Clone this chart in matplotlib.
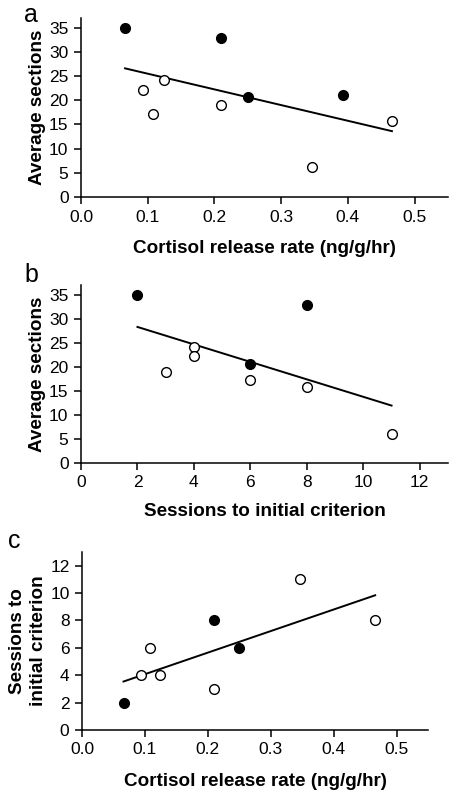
import numpy as np
import matplotlib
matplotlib.use("Agg")
import matplotlib.pyplot as plt

plt.rcParams['font.family'] = ['Liberation Sans', 'DejaVu Sans']

# Panel a: cortisol vs average sections
a_fill_x = [0.066, 0.210, 0.250, 0.393]
a_fill_y = [35.0, 32.8, 20.6, 21.0]
a_open_x = [0.093, 0.108, 0.124, 0.210, 0.346, 0.466]
a_open_y = [22.2, 17.2, 24.1, 19.0, 6.1, 15.8]

# Panel b: sessions vs average sections
b_fill_x = [2, 8, 6]
b_fill_y = [35.0, 32.8, 20.6]
b_open_x = [3, 4, 4, 6, 8, 11]
b_open_y = [19.0, 24.1, 22.2, 17.2, 15.8, 6.1]

# Panel c: cortisol vs sessions
c_fill_x = [0.066, 0.210, 0.250]
c_fill_y = [2, 8, 6]
c_open_x = [0.093, 0.108, 0.124, 0.210, 0.346, 0.466]
c_open_y = [4, 6, 4, 3, 11, 8]

cort_ticks = [0.0, 0.1, 0.2, 0.3, 0.4, 0.5]
cort_ticklabels = ['0.0', '0.1', '0.2', '0.3', '0.4', '0.5']
sect_ticks = [0, 5, 10, 15, 20, 25, 30, 35]
sess_ticks = [0, 2, 4, 6, 8, 10, 12]

W, H = 459, 797
fig = plt.figure(figsize=(W / 100, H / 100), dpi=100)

def ax_at(l, r, b, t):
    return fig.add_axes([l / W, 1 - b / H, (r - l) / W, (b - t) / H])

def style(ax):
    for s in ['top', 'right']:
        ax.spines[s].set_visible(False)
    for s in ['left', 'bottom']:
        ax.spines[s].set_linewidth(1.1)
    ax.tick_params(direction='out', length=5, width=1.1, labelsize=12.5, pad=4)

def draw(ax, fx, fy, ox, oy):
    allx = np.array(list(fx) + list(ox), float)
    ally = np.array(list(fy) + list(oy), float)
    m, c = np.polyfit(allx, ally, 1)
    xs = np.array([allx.min(), allx.max()])
    ax.plot(xs, m * xs + c, color='black', lw=1.4, zorder=2)
    ax.plot(fx, fy, 'o', ms=7, mfc='black', mec='black', mew=1, zorder=3, clip_on=False)
    ax.plot(ox, oy, 'o', ms=7, mfc='white', mec='black', mew=1, zorder=3, clip_on=False)

lab = dict(fontsize=13.6, fontweight='bold')

# a
ax1 = ax_at(81, 448, 197, 18)
draw(ax1, a_fill_x, a_fill_y, a_open_x, a_open_y)
ax1.set_xlim(0, 0.55); ax1.set_ylim(0, 37)
ax1.set_xticks(cort_ticks); ax1.set_xticklabels(cort_ticklabels)
ax1.set_yticks(sect_ticks)
style(ax1)
ax1.set_xlabel('Cortisol release rate (ng/g/hr)', labelpad=11, **lab)
ax1.set_ylabel('Average sections', labelpad=2, **lab)
fig.text(31 / W, 1 - 15 / H, 'a', fontsize=18, ha='center', va='center')

# b
ax2 = ax_at(81, 448, 463, 285)
draw(ax2, b_fill_x, b_fill_y, b_open_x, b_open_y)
ax2.set_xlim(0, 13); ax2.set_ylim(0, 37)
ax2.set_xticks(sess_ticks)
ax2.set_yticks(sect_ticks)
style(ax2)
ax2.set_xlabel('Sessions to initial criterion', labelpad=9, **lab)
ax2.set_ylabel('Average sections', labelpad=2, **lab)
fig.text(31 / W, 1 - 275 / H, 'b', fontsize=18, ha='center', va='center')

# c
ax3 = ax_at(82, 428, 730, 552)
draw(ax3, c_fill_x, c_fill_y, c_open_x, c_open_y)
ax3.set_xlim(0, 0.55); ax3.set_ylim(0, 13)
ax3.set_xticks(cort_ticks); ax3.set_xticklabels(cort_ticklabels)
ax3.set_yticks(sess_ticks)
style(ax3)
ax3.set_xlabel('Cortisol release rate (ng/g/hr)', labelpad=11, **lab)
ax3.set_ylabel('Sessions to\ninitial criterion', labelpad=2, linespacing=1.3, **lab)
fig.text(14 / W, 1 - 541 / H, 'c', fontsize=18, ha='center', va='center')

fig.savefig('out.png', dpi=100)
